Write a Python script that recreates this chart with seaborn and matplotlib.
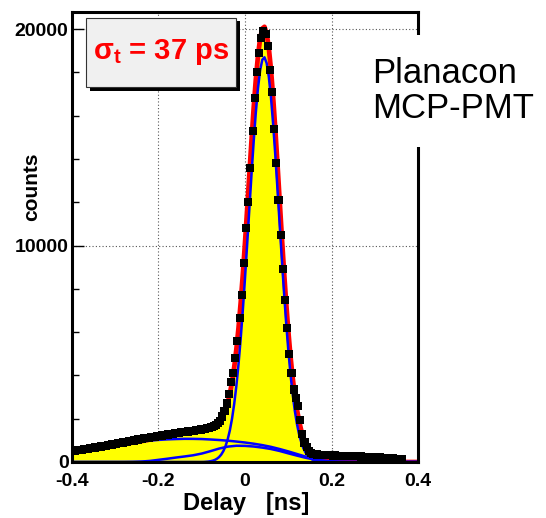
import numpy as np
import pandas as pd
import seaborn as sns
import matplotlib
matplotlib.use("Agg")
import matplotlib.pyplot as plt
from matplotlib.patches import Rectangle
from matplotlib.ticker import MultipleLocator

# ---------------- data ----------------
bin_width = 0.005
first_center = -0.3975
counts = [
    510, 520, 535, 550, 570, 585, 600, 620, 640, 655,
    670, 690, 700, 715, 735, 750, 770, 790, 810, 830,
    850, 865, 885, 900, 920, 940, 955, 975, 995, 1015,
    1040, 1055, 1070, 1090, 1105, 1120, 1140, 1155, 1175, 1195,
    1210, 1225, 1240, 1255, 1270, 1290, 1305, 1320, 1340, 1355,
    1370, 1380, 1395, 1410, 1420, 1430, 1445, 1460, 1475, 1500,
    1520, 1540, 1560, 1590, 1620, 1660, 1720, 1800, 1900, 2100,
    2350, 2700, 3150, 3700, 4100, 4800, 5600, 6650, 7700, 9200,
    10800, 12000, 13600, 15300, 16800, 18000, 18900, 19600, 19900, 19750,
    19200, 18100, 17100, 15400, 13800, 12100, 10500, 8900, 7500, 6200,
    5000, 4100, 3350, 2950, 2600, 1950, 1300, 900, 680, 500,
    420, 380, 360, 345, 335, 325, 320, 315, 310, 305,
    300, 300, 295, 290, 290, 285, 280, 280, 275, 270,
    265, 260, 258, 255, 250, 245, 240, 235, 230, 225,
    220, 215, 210, 200, 195, 190, 180, 170, 160, 150,
    140, 130, 120,
]

# broad fit components, sampled every 0.02 ns from -0.40 to 0.40
broad_x = np.round(np.linspace(-0.40, 0.40, 41), 3)
comp_tail = [
    480, 530, 590, 650, 710, 770, 830, 890, 940, 985,
    1020, 1045, 1060, 1070, 1068, 1060, 1040, 1015, 985, 945,
    900, 845, 780, 700, 600, 490, 370, 250, 140, 65,
    25, 8, 2, 0, 0, 0, 0, 0, 0, 0, 0,
]
comp_mid = [
    0, 0, 0, 0, 0, 0, 0, 5, 20, 50,
    100, 150, 205, 255, 310, 390, 500, 620, 710, 750,
    745, 715, 665, 600, 510, 400, 295, 195, 115, 55,
    20, 5, 0, 0, 0, 0, 0, 0, 0, 0, 0,
]

# main (prompt) peak component, every 0.005 ns from -0.10 to 0.20, plus range ends
peak_x = np.round(np.concatenate([[-0.40], np.linspace(-0.10, 0.20, 61), [0.40]]), 4)
comp_peak = [
    0,
    2, 4, 12, 20, 35, 58, 93, 148, 227, 342,
    507, 737, 1049, 1464, 2000, 2680, 3514, 4516, 5689, 7018,
    8486, 10053, 11667, 13266, 14782, 16138, 17262, 18092, 18578, 18693,
    18427, 17798, 16845, 15620, 14190, 12632, 11018, 9417, 7884, 6468,
    5199, 4093, 3160, 2388, 1770, 1285, 913, 636, 434, 290,
    190, 122, 77, 47, 28, 17, 9, 5, 3, 1,
    0,
    0,
]

x_ticks = [-0.4, -0.2, 0.0, 0.2, 0.4]
x_tick_labels = ["-0.4", "-0.2", "0", "0.2", "0.4"]
y_ticks = [0, 10000, 20000]
y_tick_labels = ["0", "10000", "20000"]

# ---------------- style ----------------
sns.set_theme(style="ticks")
plt.rcParams['font.family'] = ['Liberation Sans', 'DejaVu Sans']
plt.rcParams['mathtext.fontset'] = 'custom'
plt.rcParams['mathtext.rm'] = 'Liberation Sans:bold'
plt.rcParams['mathtext.bf'] = 'Liberation Sans:bold'
plt.rcParams['mathtext.it'] = 'Liberation Sans:bold:italic'

W, H = 546, 518
fig = plt.figure(figsize=(W / 100, H / 100), dpi=100)
L, R, T, B = 72, 418, 11.5, 462
ax = fig.add_axes([L / W, 1 - B / H, (R - L) / W, (B - T) / H])
ax.set_facecolor("white")

centers = first_center + bin_width * np.arange(len(counts))
lo = centers[0] - bin_width / 2
hi = centers[-1] + bin_width / 2

df = pd.DataFrame({"delay": centers, "counts": counts})

# yellow filled histogram
sns.histplot(data=df, x="delay", weights="counts", bins=len(counts), binrange=(lo, hi),
             element="step", fill=True, color="#ffff00", alpha=1, linewidth=0,
             ax=ax, zorder=2)

# fit: total (red) and components (blue)
x_all = np.union1d(broad_x, peak_x)
total = (np.interp(x_all, broad_x, comp_tail) + np.interp(x_all, broad_x, comp_mid)
         + np.interp(x_all, peak_x, comp_peak))
sns.lineplot(x=x_all, y=total, color="#ff0000", linewidth=3.4, ax=ax,
             estimator=None, sort=False, zorder=3)
for cx, cy in [(broad_x, comp_tail), (broad_x, comp_mid), (peak_x, comp_peak)]:
    sns.lineplot(x=cx, y=cy, color="#0000ff", linewidth=1.8, ax=ax,
                 estimator=None, sort=False, zorder=4)

# data points
sns.scatterplot(data=df, x="delay", y="counts", marker="s", s=34, color="black",
                edgecolor="none", linewidth=0, ax=ax, zorder=5, legend=False)

ax.set_xlim(-0.4, 0.4)
ax.set_ylim(0, 20000 * (B - T) / (B - 29))
ax.set_xlabel("")
ax.set_ylabel("")

ax.set_xticks(x_ticks, labels=x_tick_labels, fontweight="bold", fontsize=14)
ax.set_yticks(y_ticks, labels=y_tick_labels, fontweight="bold", fontsize=14)
ax.xaxis.set_minor_locator(MultipleLocator(0.05))
ax.yaxis.set_minor_locator(MultipleLocator(2000))
ax.tick_params(which="both", direction="in", top=False, right=False,
               color="black", width=1.0, labelcolor="black")
ax.tick_params(which="major", length=8.5)
ax.tick_params(which="minor", length=5)
ax.tick_params(axis="x", which="major", pad=8)
ax.tick_params(axis="y", which="major", pad=2.5)

ax.set_axisbelow(True)
ax.grid(True, which="major", linestyle=(0, (1, 2)), color="#555555", linewidth=0.8)
for sp in ax.spines.values():
    sp.set_visible(True)
    sp.set_color("black")
    sp.set_linewidth(2.2)
    sp.set_zorder(6)

# axis titles
fig.text(246 / W, 1 - 510 / H, "Delay   [ns]", ha="center", va="baseline",
         fontsize=17, fontweight="bold", color="black")
fig.text(32 / W, 1 - 187 / H, "counts", ha="center", va="center", rotation=90,
         fontsize=15, fontweight="bold", color="black")

# sigma box with shadow
def fig_rect(x0, y0, x1, y1, **kw):
    r = Rectangle((x0 / W, 1 - y1 / H), (x1 - x0) / W, (y1 - y0) / H,
                  transform=fig.transFigure, **kw)
    fig.add_artist(r)
    return r

fig_rect(89.5, 21.5, 239.5, 90.5, facecolor="black", edgecolor="none", zorder=10)
fig_rect(86, 18, 236, 87, facecolor="#f0f0f0", edgecolor="#333333", linewidth=0.8, zorder=11)
fig.text(161 / W, 1 - 52 / H, r"$\mathrm{\sigma}_\mathrm{t}$ = 37 ps", ha="center",
         va="center", fontsize=21, fontweight="bold", color="#ff0000", zorder=12)

# label on white background
fig_rect(362, 35, 546, 147, facecolor="white", edgecolor="none", zorder=10)
fig.text(372 / W, 1 - 83 / H, "Planacon", ha="left", va="baseline",
         fontsize=25, color="black", zorder=12)
fig.text(372 / W, 1 - 118 / H, "MCP-PMT", ha="left", va="baseline",
         fontsize=25, color="black", zorder=12)

fig.savefig("out.png", dpi=100, facecolor="white")
